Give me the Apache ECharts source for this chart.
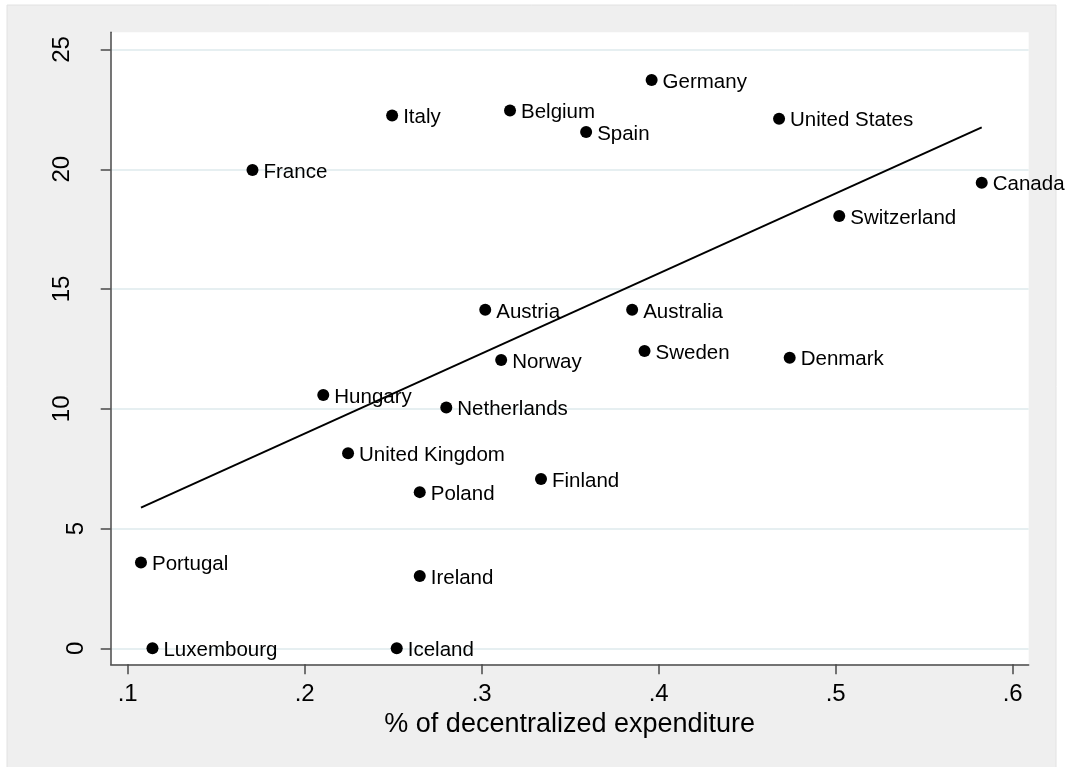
<!DOCTYPE html>
<html>
<head>
<meta charset="utf-8">
<script src="https://cdn.jsdelivr.net/npm/echarts@6/dist/echarts.min.js"></script>
<style>
html,body{margin:0;padding:0;background:#fff;}
#chart{width:1072px;height:767px;}
</style>
</head>
<body>
<div id="chart"></div>
<script>
var countries = ['Germany','Belgium','Spain','United States','Switzerland','Austria','Australia','Norway','Sweden','Hungary','Netherlands','United Kingdom','Finland','Poland','Italy','France','Canada','Denmark','Portugal','Ireland','Luxembourg','Iceland'];
var decentralized = [0.396,0.316,0.359,0.468,0.502,0.302,0.385,0.311,0.392,0.2105,0.280,0.2245,0.3335,0.265,0.2494,0.1705,0.5825,0.474,0.1075,0.265,0.114,0.252];
var yValues = [23.73,22.45,21.56,22.11,18.05,14.13,14.13,12.04,12.41,10.58,10.05,8.14,7.07,6.52,22.24,19.97,19.44,12.13,3.58,3.02,0,0];
var fitX = [0.1075, 0.5825];
var fitY = [5.87, 21.75];
var xTicks = [0.1,0.2,0.3,0.4,0.5,0.6];
var xTickLabels = ['.1','.2','.3','.4','.5','.6'];
var yTicks = [0,5,10,15,20,25];
var yTickLabels = ['0','5','10','15','20','25'];
var xTitle = '% of decentralized expenditure';

var FONT = "'Liberation Sans', Arial, Helvetica, sans-serif";
var chart = echarts.init(document.getElementById('chart'), null, {renderer:'canvas'});

var scatterData = decentralized.map(function(x,i){ return [x, yValues[i]]; });
var fitData = fitX.map(function(x,i){ return [x, fitY[i]]; });

function nearestLabel(v, ticks, labels){
  var best = 0, d = Infinity;
  for (var i=0;i<ticks.length;i++){ var dd=Math.abs(ticks[i]-v); if(dd<d){d=dd;best=i;} }
  return labels[best];
}

var option = {
  animation: false,
  backgroundColor: '#ffffff',
  graphic: [{
    type: 'rect',
    z: -100,
    shape: {x: 7, y: 5, width: 1049, height: 770},
    style: {fill: '#efefef', stroke: '#e2e2e2', lineWidth: 1}
  }],
  grid: {
    left: 110.7, top: 32.3, right: 43.3, bottom: 102.7,
    show: true, backgroundColor: '#ffffff', borderWidth: 0,
    containLabel: false, outerBoundsMode: 'none'
  },
  xAxis: {
    type: 'value',
    min: 0.0904, max: 0.60904,
    name: xTitle,
    nameLocation: 'middle',
    nameGap: 43,
    nameTextStyle: {fontFamily: FONT, fontSize: 27, color: '#000'},
    axisLine: {show: true, onZero: false, lineStyle: {color: '#4a4a4a', width: 1.5}},
    axisTick: {show: true, inside: false, length: 10, customValues: xTicks, lineStyle: {color: '#4a4a4a', width: 1.5}},
    axisLabel: {show: true, customValues: xTicks, margin: 18, fontFamily: FONT, fontSize: 24, color: '#000',
      formatter: function(v){ return nearestLabel(v, xTicks, xTickLabels); }},
    splitLine: {show: false}
  },
  yAxis: {
    type: 'value',
    min: -0.668, max: 25.718,
    axisLine: {show: true, onZero: false, lineStyle: {color: '#4a4a4a', width: 1.5}},
    axisTick: {show: true, inside: false, length: 10, customValues: yTicks, lineStyle: {color: '#4a4a4a', width: 1.5}},
    axisLabel: {show: true, customValues: yTicks, rotate: 90, margin: 22, fontFamily: FONT, fontSize: 24, color: '#000',
      formatter: function(v){
        var t = nearestLabel(v, yTicks, yTickLabels);
        return t.length > 1 ? '{b|' + t + '}' : '{a|' + t + '}';
      },
      rich: {
        a: {fontFamily: FONT, fontSize: 24, color: '#000'},
        b: {fontFamily: FONT, fontSize: 24, color: '#000', padding: [0,0,14,0]}
      }
    },
    splitLine: {show: true, lineStyle: {color: '#e6eff1', width: 2}}
  },
  series: [
    {
      type: 'scatter',
      data: scatterData,
      symbol: 'circle',
      symbolSize: 12,
      itemStyle: {color: '#000', opacity: 1},
      label: {
        show: true, position: 'right', distance: 5, offset: [0, 2],
        fontFamily: FONT, fontSize: 20.5, color: '#000', opacity: 1,
        formatter: function(p){ return countries[p.dataIndex]; }
      },
      z: 3
    },
    {
      type: 'line',
      data: fitData,
      showSymbol: false,
      symbol: 'none',
      lineStyle: {color: '#000', width: 2},
      z: 4,
      silent: true
    }
  ]
};
chart.setOption(option);
</script>
</body>
</html>
